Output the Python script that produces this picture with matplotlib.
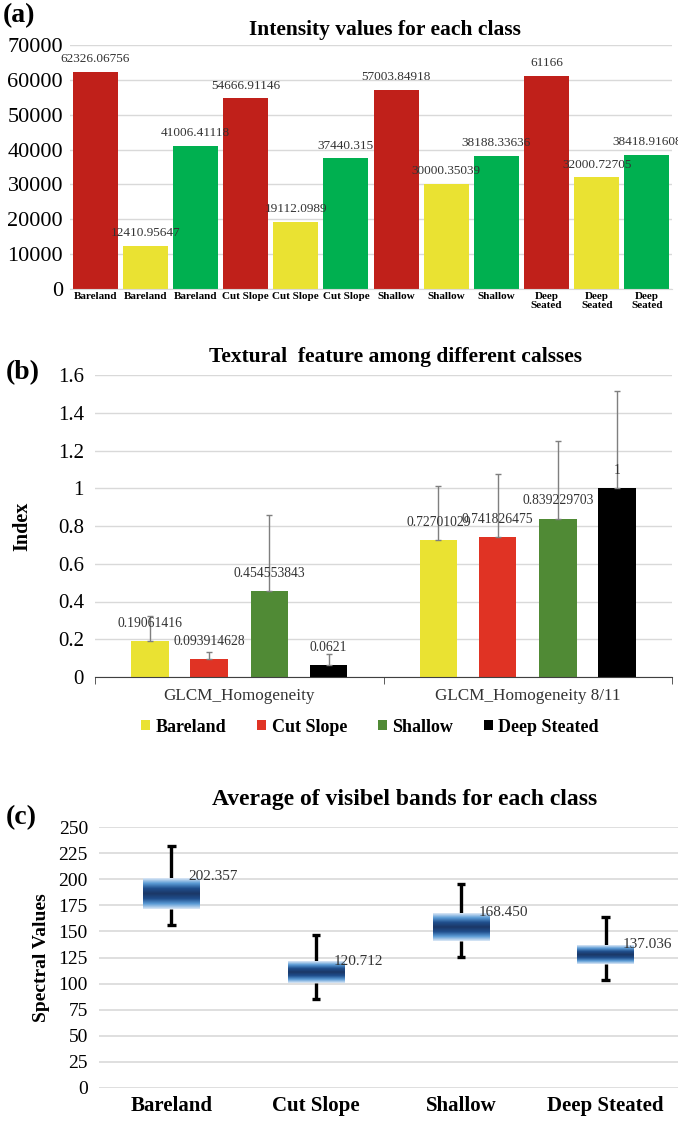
import numpy as np
import matplotlib
matplotlib.use("Agg")
import matplotlib.pyplot as plt
from matplotlib.colors import LinearSegmentedColormap

plt.rcParams['font.family'] = ['Liberation Serif', 'DejaVu Serif']

# ---- panel (a) data
a_labels = ['Bareland', 'Bareland', 'Bareland', 'Cut Slope', 'Cut Slope', 'Cut Slope',
            'Shallow', 'Shallow', 'Shallow', 'Deep\nSeated', 'Deep\nSeated', 'Deep\nSeated']
a_values = [62326.06756, 12410.95647, 41006.41118, 54666.91146, 19112.0989, 37440.315,
            57003.84918, 30000.35039, 38188.33636, 61166, 32000.72705, 38418.91608]
a_text = ['62326.06756', '12410.95647', '41006.41118', '54666.91146', '19112.0989', '37440.315',
          '57003.84918', '30000.35039', '38188.33636', '61166', '32000.72705', '38418.91608']
a_colors = ['#C0201A', '#EAE232', '#00B050'] * 4

# ---- panel (b) data
b_groups = ['GLCM_Homogeneity', 'GLCM_Homogeneity 8/11']
b_classes = ['Bareland', 'Cut Slope', 'Shallow', 'Deep Steated']
b_colors = ['#EAE232', '#E03324', '#508A35', '#000000']
b_values = {
    'Bareland': [0.19061416, 0.72701029],
    'Cut Slope': [0.093914628, 0.741826475],
    'Shallow': [0.454553843, 0.839229703],
    'Deep Steated': [0.0621, 1.0],
}
b_text = {
    'Bareland': ['0.19061416', '0.72701029'],
    'Cut Slope': ['0.093914628', '0.741826475'],
    'Shallow': ['0.454553843', '0.839229703'],
    'Deep Steated': ['0.0621', '1'],
}
b_err = {
    'Bareland': [0.133, 0.283],
    'Cut Slope': [0.038, 0.334],
    'Shallow': [0.405, 0.413],
    'Deep Steated': [0.061, 0.517],
}

# ---- panel (c) data
c_classes = ['Bareland', 'Cut Slope', 'Shallow', 'Deep Steated']
c_box_low = [171.5, 100.5, 140.7, 118.7]
c_box_high = [200.8, 121.0, 167.4, 136.6]
c_whisk_low = [156.2, 85.3, 125.4, 103.5]
c_whisk_high = [231.8, 146.5, 195.8, 163.8]
c_text = ['202.357', '120.712', '168.450', '137.036']
c_text_y = [202.357, 120.712, 168.450, 137.036]

W, H = 678, 1122
fig = plt.figure(figsize=(W / 100, H / 100), dpi=100)


def rect(l, t, r, b):
    return [l / W, 1 - b / H, (r - l) / W, (b - t) / H]


grid_c = '#D9D9D9'

# ================= (a)
ax = fig.add_axes(rect(70, 45, 672, 289))
x = np.arange(len(a_values))
ax.bar(x, a_values, width=0.9, color=a_colors, zorder=2)
for xi, v, t in zip(x, a_values, a_text):
    ax.annotate(t, (xi, v), xytext=(0, 5), textcoords='offset points',
                ha='center', va='bottom', fontsize=9.5, color='#333333')
ax.set_xlim(-0.5, 11.5)
ax.set_ylim(0, 70000)
ax.set_yticks(np.arange(0, 70001, 10000))
ax.tick_params(axis='y', labelsize=16, length=0, pad=5)
ax.set_xticks(x)
ax.set_xticklabels(a_labels, fontsize=8, fontweight='bold', linespacing=1.1)
ax.tick_params(axis='x', length=0, pad=2)
ax.grid(axis='y', color=grid_c, lw=1, zorder=0)
for s in ['top', 'right', 'left']:
    ax.spines[s].set_visible(False)
ax.spines['bottom'].set_color(grid_c)
fig.text(385 / W, 1 - 30 / H, 'Intensity values for each class', ha='center', va='center',
         fontsize=15.5, fontweight='bold')
fig.text(3 / W, 1 - 16 / H, '(a)', ha='left', va='center', fontsize=20, fontweight='bold')

# ================= (b)
ax = fig.add_axes(rect(95, 375, 672, 677))
gx = np.arange(len(b_groups))
offs = [-0.31, -0.104, 0.104, 0.31]
for c, col, o in zip(b_classes, b_colors, offs):
    vals = b_values[c]
    err = b_err[c]
    ax.bar(gx + o, vals, width=0.13, color=col, label=c, zorder=2)
    ax.errorbar(gx + o, vals, yerr=[np.zeros(len(vals)), err], fmt='none',
                ecolor='#7F7F7F', elinewidth=1, capsize=2.5, zorder=3)
    for xi, v, t in zip(gx + o, vals, b_text[c]):
        ax.annotate(t, (xi, v), xytext=(0, 8), textcoords='offset points',
                    ha='center', va='bottom', fontsize=9.8, color='#333333', zorder=4)
ax.set_xlim(-0.5, 1.5)
ax.set_ylim(0, 1.6)
ax.set_yticks(np.arange(0, 1.61, 0.2))
ax.set_yticklabels(['0', '0.2', '0.4', '0.6', '0.8', '1', '1.2', '1.4', '1.6'])
ax.tick_params(axis='y', labelsize=15, length=0, pad=8)
ax.set_xticks(gx)
ax.set_xticklabels(b_groups, fontsize=12.3, color='#333333')
ax.tick_params(axis='x', which='major', length=0, pad=8)
ax.set_xticks([-0.5, 0.5, 1.5], minor=True)
ax.tick_params(axis='x', which='minor', length=5, color='#404040')
ax.grid(axis='y', color=grid_c, lw=1, zorder=0)
for s in ['top', 'right', 'left']:
    ax.spines[s].set_visible(False)
ax.spines['bottom'].set_color('#404040')
ax.set_ylabel('Index', fontsize=14.5, fontweight='bold', labelpad=18)
leg = fig.legend(*ax.get_legend_handles_labels(), loc='center', bbox_to_anchor=(370 / W, 1 - 727 / H),
                 ncol=4, frameon=False, prop={'size': 13, 'weight': 'bold'},
                 handlelength=0.5, handleheight=0.5, handletextpad=0.3, columnspacing=1.7)
fig.text(395 / W, 1 - 357 / H, 'Textural  feature among different calsses', ha='center', va='center',
         fontsize=15.5, fontweight='bold')
fig.text(6 / W, 1 - 373 / H, '(b)', ha='left', va='center', fontsize=20, fontweight='bold')

# ================= (c)
ax = fig.add_axes(rect(99, 827, 678, 1088))
cx = np.arange(len(c_classes))
cmap = LinearSegmentedColormap.from_list('boxgrad', ['#DCE8F6', '#5B9BD5', '#1F4E8C', '#1B3766',
                                                     '#1F4E8C', '#5B9BD5', '#DCE8F6'])
grad = np.linspace(0, 1, 200).reshape(-1, 1)
bw = 0.39
for xi, lo, hi, wl, wh in zip(cx, c_box_low, c_box_high, c_whisk_low, c_whisk_high):
    ax.vlines(xi, hi, wh, color='black', lw=2.4, zorder=2)
    ax.vlines(xi, wl, lo, color='black', lw=2.4, zorder=2)
    ax.hlines([wl, wh], xi - 0.03, xi + 0.03, color='black', lw=2.4, zorder=2)
    ax.imshow(grad, cmap=cmap, extent=[xi - bw / 2, xi + bw / 2, lo, hi],
              aspect='auto', origin='lower', zorder=3)
for xi, ty, t in zip(cx, c_text_y, c_text):
    ax.text(xi + 0.12, ty, t, ha='left', va='center', fontsize=11, color='#333333', zorder=4)
ax.set_xlim(-0.5, 3.5)
ax.set_ylim(0, 250)
ax.set_yticks(np.arange(0, 251, 25))
ax.tick_params(axis='y', labelsize=14, length=0, pad=8)
ax.set_xticks(cx)
ax.set_xticklabels(c_classes, fontsize=15, fontweight='bold')
ax.tick_params(axis='x', length=0, pad=6)
ax.grid(axis='y', color=grid_c, lw=1.2, zorder=0)
for s in ['top', 'right', 'left', 'bottom']:
    ax.spines[s].set_visible(False)
ax.set_ylabel('Spectral Values', fontsize=14, fontweight='bold', labelpad=6)
fig.text(405 / W, 1 - 800 / H, 'Average of visibel bands for each class', ha='center', va='center',
         fontsize=17, fontweight='bold')
fig.text(6 / W, 1 - 818 / H, '(c)', ha='left', va='center', fontsize=20, fontweight='bold')

fig.savefig('out.png', dpi=100)
